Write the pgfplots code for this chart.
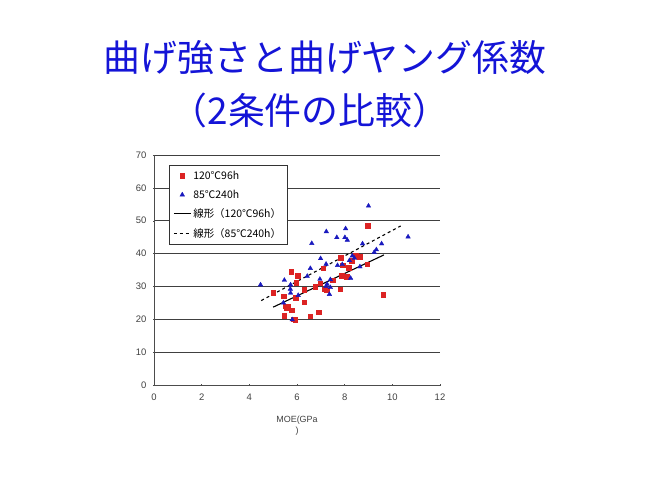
\documentclass[border=0pt]{standalone}
\usepackage{pgfplots}
\pgfplotsset{compat=1.18}
\usepackage{fontspec}
\setmainfont{Liberation Sans}
\newfontfamily\jp{Noto Sans CJK JP}

\definecolor{ttlblue}{RGB}{20,20,215}
\definecolor{ptred}{RGB}{220,35,35}
\definecolor{ptblue}{RGB}{25,25,190}

\begin{document}
\begin{tikzpicture}
\path[use as bounding box] (0,0) rectangle (650bp,487bp);
% title
\node[text=ttlblue, font=\jp\fontsize{37}{40}\selectfont] at (325bp,429bp) {曲げ強さと曲げヤング係数};
\node[text=ttlblue, font=\jp\fontsize{37}{40}\selectfont] at (310bp,377bp) {（2条件の比較）};

\begin{axis}[
    at={(154bp,102bp)}, anchor=south west,
    scale only axis,
    width=286bp, height=230bp,
    xmin=0, xmax=12, ymin=0, ymax=70,
    xtick={0,2,...,12}, ytick={0,10,...,70},
    axis x line=bottom, axis y line=left,
    axis line style={-, black!70},
    tick style={black!70, thin},
    major tick length=2bp,
    ymajorgrids,
    grid style={black!75, line width=0.7bp},
    tick label style={font=\fontsize{9.5}{10}\selectfont, text=black!75},
    xticklabel style={yshift=-4bp},
    yticklabel style={xshift=-3bp},
    /pgf/number format/assume math mode=true,
    xlabel={MOE(GPa\\)},
    xlabel style={at={(axis description cs:0.5,0)}, anchor=north, yshift=-27bp,
      align=center, font=\fontsize{9}{12}\selectfont, text=black!75},
    legend style={at={(axis cs:0.63,67)}, anchor=north west, draw=black!80,
      font=\jp\fontsize{10.5}{12}\selectfont, row sep=5bp, inner sep=4bp},
    legend cell align=left,
    clip=false,
    ]
\addplot[only marks, mark=square*, mark size=2.3bp, color=ptred] coordinates {
(8.97,48.4) (9.62,27.4) (8.95,36.8) (8.64,39.0) (8.46,39.4) (8.18,35.7)
(8.08,33.0) (7.88,33.3) (7.84,38.7) (7.92,36.4) (7.82,29.2) (7.10,35.5)
(6.98,31.0) (7.15,29.1) (6.76,29.9) (6.92,22.1) (6.56,20.9) (6.31,25.2)
(6.31,29.0) (6.04,33.3) (5.97,31.2) (5.75,34.5) (5.95,26.5) (5.77,22.8)
(5.62,24.0) (5.53,24.0) (5.47,21.1) (5.44,27.0) (5.00,28.0) (5.93,19.9)
(5.58,23.4) (7.25,28.9) (8.30,37.8) (7.50,31.9) (5.85,20.0)
};
\addlegendentry{120℃96h}
\addplot[only marks, mark=triangle*, mark size=2.6bp, color=ptblue] coordinates {
(9.00,54.5) (10.66,45.1) (8.04,47.6) (7.23,46.7) (7.67,44.9) (8.01,44.9)
(8.11,44.1) (6.62,43.1) (8.75,43.0) (9.55,43.0) (9.33,41.2) (9.24,40.4)
(8.32,39.3) (8.41,38.6) (8.20,37.9) (7.90,36.7) (7.70,36.4) (6.99,38.5)
(7.22,36.8) (6.56,35.5) (6.43,33.1) (8.64,36.0) (8.25,32.5) (7.40,32.1)
(6.96,32.2) (7.26,30.7) (7.22,30.0) (7.40,29.7) (7.36,27.6) (5.47,31.9)
(5.73,30.5) (5.73,28.0) (5.72,29.2) (4.47,30.5) (5.43,25.0) (5.80,19.9)
(6.05,27.3)
};
\addlegendentry{85℃240h}
\addplot[black, line width=1.1bp, mark=none] coordinates {(5.0,23.7) (9.65,39.6)};
\addlegendentry{線形（120℃96h）}
\addplot[black, line width=1.1bp, dashed, mark=none] coordinates {(4.5,25.7) (10.35,48.4)};
\addlegendentry{線形（85℃240h）}
\end{axis}
\end{tikzpicture}
\end{document}
